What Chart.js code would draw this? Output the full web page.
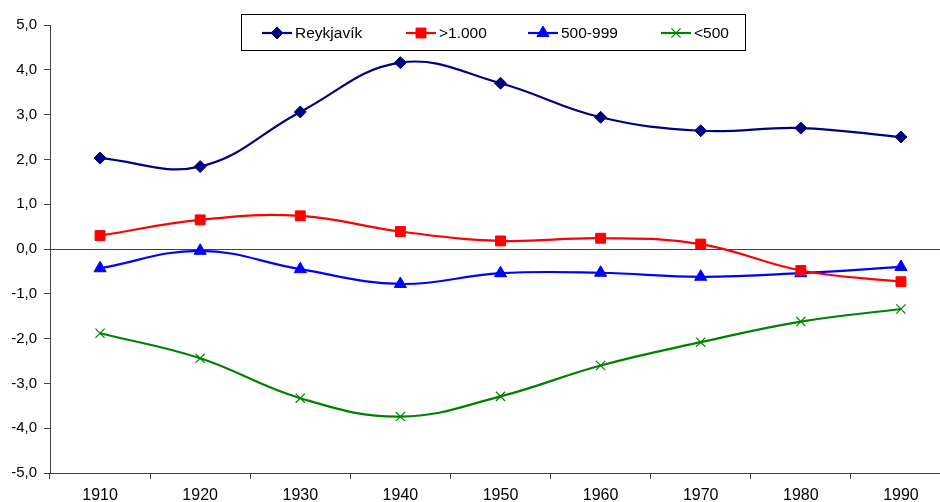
<!DOCTYPE html>
<html>
<head>
<meta charset="utf-8">
<script src="https://cdn.jsdelivr.net/npm/chart.js@4/dist/chart.umd.min.js"></script>
<style>
  html, body { margin: 0; padding: 0; background: #fff; overflow: hidden; }
  #wrap { width: 940px; height: 502px; overflow: hidden; position: relative; }
  canvas { display: block; }
</style>
</head>
<body>
<div id="wrap"><canvas id="c" width="959" height="502"></canvas></div>
<script>
// ---- data ----
const years = ['1910', '1920', '1930', '1940', '1950', '1960', '1970', '1980', '1990'];
const seriesNames = ['Reykjavík', '>1.000', '500-999', '<500'];
const reykjavik = [2.03, 1.84, 3.06, 4.16, 3.70, 2.94, 2.64, 2.70, 2.50];
const over1000 = [0.30, 0.65, 0.74, 0.39, 0.18, 0.24, 0.11, -0.48, -0.73];
const mid500to999 = [-0.43, -0.04, -0.45, -0.78, -0.54, -0.53, -0.62, -0.54, -0.40];
const under500 = [-1.88, -2.44, -3.33, -3.74, -3.29, -2.60, -2.08, -1.62, -1.34];
const yMin = -5, yMax = 5, yStep = 1;

const FONT = '"Liberation Sans", Arial, "DejaVu Sans", sans-serif';

const styles = [
  { color: '#000080', pointStyle: 'rectRot', radius: 6, pbw: 1 },
  { color: '#FF0000', pointStyle: 'rect', radius: 7, pbw: 1 },
  { color: '#0000FF', pointStyle: 'triangle', radius: 7, pbw: 1 },
  { color: '#008000', pointStyle: 'crossRot', radius: 6.5, pbw: 1.2 }
];
const values = [reykjavik, over1000, mid500to999, under500];

const datasets = values.map((v, i) => ({
  label: seriesNames[i],
  data: v,
  borderColor: styles[i].color,
  backgroundColor: styles[i].color,
  pointBackgroundColor: styles[i].color,
  pointBorderColor: styles[i].color,
  pointStyle: styles[i].pointStyle,
  pointRadius: styles[i].radius,
  pointHoverRadius: styles[i].radius,
  pointBorderWidth: styles[i].pbw,
  borderWidth: 2.2,
  tension: 0.4,
  fill: false,
  clip: false
}));

const legendPlugin = {
  id: 'boxLegend',
  afterDraw(chart) {
    const ctx = chart.ctx;
    ctx.save();
    ctx.strokeStyle = '#000';
    ctx.lineWidth = 1;
    ctx.strokeRect(241.5, 14.5, 504, 36);
    const cy = 33;
    const starts = [262, 406, 528, 661];
    chart.data.datasets.forEach((ds, i) => {
      const x0 = starts[i], x1 = x0 + 30;
      ctx.strokeStyle = ds.borderColor;
      ctx.fillStyle = ds.borderColor;
      ctx.lineWidth = 2.2;
      ctx.beginPath();
      ctx.moveTo(x0, cy);
      ctx.lineTo(x1, cy);
      ctx.stroke();
      ctx.lineWidth = ds.pointBorderWidth;
      Chart.helpers.drawPoint(ctx, {
        pointStyle: ds.pointStyle,
        radius: ds.pointRadius,
        rotation: 0,
        borderWidth: ds.pointBorderWidth
      }, (x0 + x1) / 2, cy);
      ctx.fillStyle = '#000';
      ctx.font = '15.5px ' + FONT;
      ctx.textBaseline = 'middle';
      ctx.textAlign = 'left';
      ctx.fillText(ds.label, x1 + 3, cy + 1);
    });
    ctx.restore();
  }
};

new Chart(document.getElementById('c'), {
  type: 'line',
  data: { labels: years, datasets },
  plugins: [legendPlugin],
  options: {
    responsive: false,
    animation: false,
    events: [],
    layout: { padding: { top: 25, right: 0, bottom: 0, left: 0 } },
    plugins: { legend: { display: false }, tooltip: { enabled: false } },
    scales: {
      x: {
        type: 'category',
        offset: true,
        grid: {
          offset: true,
          drawOnChartArea: false,
          drawTicks: true,
          tickLength: 6,
          tickColor: '#404040',
          color: '#404040'
        },
        border: { display: true, color: '#404040', width: 1 },
        ticks: {
          color: '#000',
          font: { family: FONT, size: 16 },
          padding: 7,
          maxRotation: 0,
          autoSkip: false
        },
        afterFit(scale) { scale.height = 29; }
      },
      y: {
        min: yMin,
        max: yMax,
        grid: {
          drawOnChartArea: true,
          color: (c) => (c.tick && c.tick.value === 0) ? '#404040' : 'rgba(0,0,0,0)',
          lineWidth: 1,
          tickLength: 6,
          tickColor: '#404040'
        },
        border: { display: true, color: '#404040', width: 1 },
        ticks: {
          stepSize: yStep,
          color: '#000',
          font: { family: FONT, size: 15 },
          padding: 7,
          callback: (v) => v.toFixed(1).replace('.', ',')
        },
        afterFit(scale) { scale.width = 50; }
      }
    }
  }
});
</script>
</body>
</html>
